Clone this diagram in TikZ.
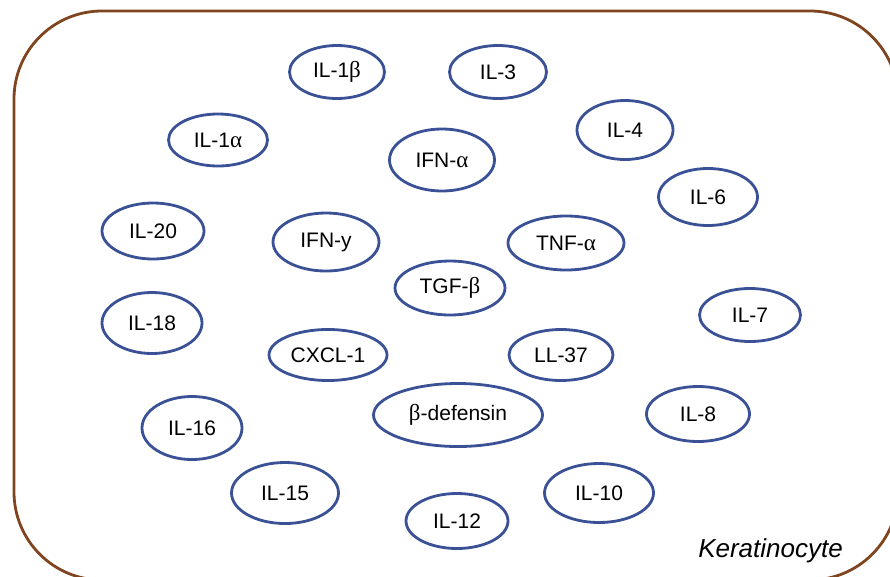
\documentclass[tikz,border=0pt]{standalone}
\usepackage{fontspec}
\setmainfont{Liberation Sans}
\newfontfamily\grk{Liberation Serif}
\usetikzlibrary{shapes.geometric}
\definecolor{cellbrown}{HTML}{7E4520}
\definecolor{cytoblue}{HTML}{3A5196}
\begin{document}
\begin{tikzpicture}[x=1pt,y=-1pt,
  cyto/.style={ellipse, draw=cytoblue, line width=2.8pt, inner sep=0pt,
    font=\fontsize{21}{25}\selectfont, text=black},
  cell/.style={draw=cellbrown, line width=2.8pt, rounded corners=88pt},
  celllabel/.style={font=\fontsize{26}{30}\selectfont\itshape, text=black, inner sep=0pt}]
\useasboundingbox (0,0) rectangle (890,576);
\draw[cell] (14,11) rectangle (898,580);
\newcommand{\cyt}[6]{\node[cyto, minimum width=#4pt, minimum height=#5pt] (#1) at (#2,#3) {#6};}
\newcommand{\gk}[1]{{\grk\fontsize{23}{25}\selectfont #1}}
\cyt{il1b}{337}{72}{95}{53}{IL-1\gk{β}}
\cyt{il3}{498}{72}{97}{53}{IL-3}
\cyt{il1a}{218}{140}{99}{52}{IL-1\gk{α}}
\cyt{ifna}{442}{160}{105}{62}{IFN-\gk{α}}
\cyt{il4}{625}{130}{96}{59}{IL-4}
\cyt{il6}{708}{197}{99}{57}{IL-6}
\cyt{il20}{153}{231}{102}{56}{IL-20}
\cyt{il18}{152}{323}{100}{61}{IL-18}
\cyt{ifny}{326}{242}{106}{58}{IFN-y}
\cyt{tnfa}{566}{243}{116}{54}{TNF-\gk{α}}
\cyt{tgfb}{450}{288}{110}{54}{TGF-\gk{β}}
\cyt{cxcl}{328}{355}{118}{51}{CXCL-1}
\cyt{ll37}{561}{355}{104}{51}{LL-37}
\cyt{bdef}{458}{415}{169}{63}{\gk{β}-defensin}
\cyt{il7}{750}{315}{101}{53}{IL-7}
\cyt{il8}{698}{414}{103}{55}{IL-8}
\cyt{il16}{192}{428}{100}{63}{IL-16}
\cyt{il15}{285}{493}{107}{61}{IL-15}
\cyt{il12}{457}{521}{102}{55}{IL-12}
\cyt{il10}{599}{493}{109}{59}{IL-10}
\node[celllabel, anchor=base east] (kera) at (843,557) {Keratinocyte};
\end{tikzpicture}
\end{document}
